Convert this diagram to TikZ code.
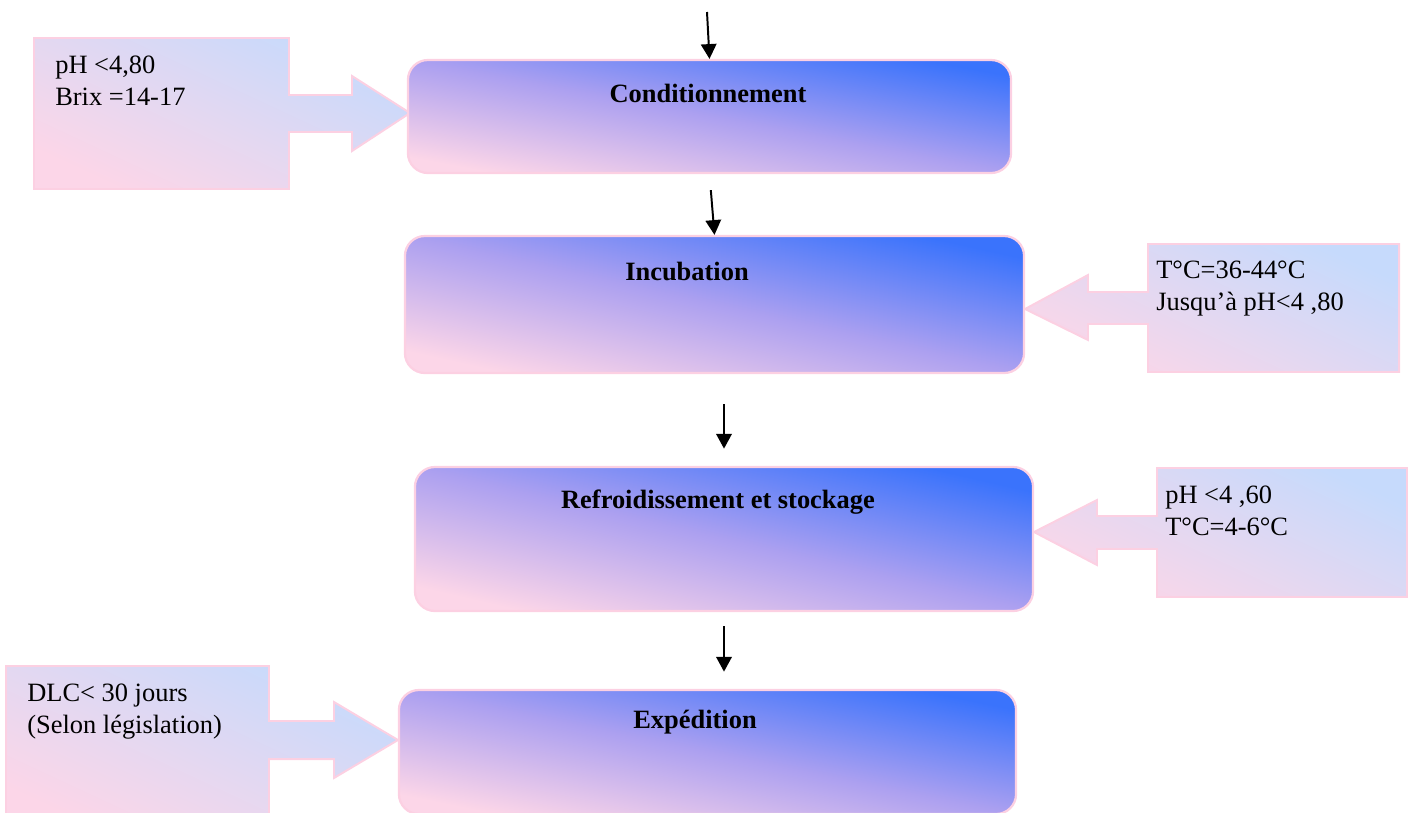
\documentclass[tikz,border=0pt]{standalone}
\usepackage{fontspec}
\setmainfont{Liberation Serif}
\usetikzlibrary{arrows.meta}
\definecolor{bleuvif}{RGB}{58,115,252}
\definecolor{lavande}{RGB}{172,160,240}
\definecolor{rosepale}{RGB}{252,214,232}
\definecolor{bleuclair}{RGB}{198,218,252}
\definecolor{bordrose}{RGB}{252,208,226}
\tikzset{
  etape/.style={rectangle, rounded corners=0.5cm, draw=bordrose, line width=1.6pt,
    bottom color=rosepale, top color=bleuvif, middle color=lavande, shading angle=-12, inner sep=0},
  bulle/.style={draw=bordrose, line width=1.4pt, bottom color=rosepale, top color=bleuclair, shading angle=-25},
  note/.style={anchor=north west, inner sep=0, align=left},
  titre/.style={font=\fontsize{18.8}{22.8}\selectfont\bfseries},
  fleche/.style={-{Triangle[width=11pt,length=10.5pt]}, line width=1.4pt}
}
\begin{document}
\begin{tikzpicture}[x=0.025cm, y=-0.025cm, font=\fontsize{18.8}{22.8}\selectfont]
\useasboundingbox (0,0) rectangle (1408,812);
\clip (0,0) rectangle (1408,812);
\path[bulle] (34,38) -- (289,38) -- (289,95) -- (352,95) -- (352,76) -- (410,113)
   -- (352,151) -- (352,132) -- (289,132) -- (289,189) -- (34,189) -- cycle;
\path[bulle] (1148,244) -- (1399,244) -- (1399,372) -- (1148,372) -- (1148,324) -- (1088,324)
   -- (1088,340) -- (1025,309) -- (1088,275) -- (1088,292) -- (1148,292) -- cycle;
\path[bulle] (1157,468) -- (1407,468) -- (1407,597) -- (1157,597) -- (1157,549) -- (1097,549)
   -- (1097,565) -- (1034,532) -- (1097,500) -- (1097,516) -- (1157,516) -- cycle;
\path[bulle] (6,666) -- (269,666) -- (269,721) -- (334,721) -- (334,702) -- (398,740)
   -- (334,778) -- (334,759) -- (269,759) -- (269,830) -- (6,830) -- cycle;

\node[etape, shading angle=-10.6, minimum width=15.075cm, minimum height=2.825cm] (b1) at (709.5,116.5) {};
\node[etape, shading angle=-12.5, minimum width=15.475cm, minimum height=3.425cm] (b2) at (714.5,304.5) {};
\node[etape, shading angle=-13, minimum width=15.45cm, minimum height=3.6cm] (b3) at (724,539) {};
\node[etape, shading angle=-11.5, minimum width=15.425cm, minimum height=3.1cm] (b4) at (707.5,752) {};

\node[titre] (t1) at (708,93) {Conditionnement};
\node[titre] (t2) at (687,271) {Incubation};
\node[titre] (t3) at (718,502) {Refroidissement et stockage};
\node[titre] (t4) at (695,722) {Expédition};

\node[note] (n1) at (55,56) {pH <4,80\\Brix =14-17};
\node[note] (n2) at (1156,261) {T°C=36-44°C\\Jusqu’à pH<4 ,80};
\node[note] (n3) at (1165,486) {pH <4 ,60\\T°C=4-6°C};
\node[note] (n4) at (27,684) {DLC< 30 jours\\(Selon législation)};

\coordinate (haut) at (707,12);
\draw[fleche] (haut) -- (b1.north);
\draw[fleche, shorten <=0.4cm] (b1.south) -- (b2.north);
\draw[fleche, shorten <=0.75cm, shorten >=0.43cm] (b3.north |- b2.south) -- (b3.north);
\draw[fleche, shorten <=0.35cm, shorten >=0.43cm] (b3.south) -- (b3.south |- b4.north);
\end{tikzpicture}
\end{document}
